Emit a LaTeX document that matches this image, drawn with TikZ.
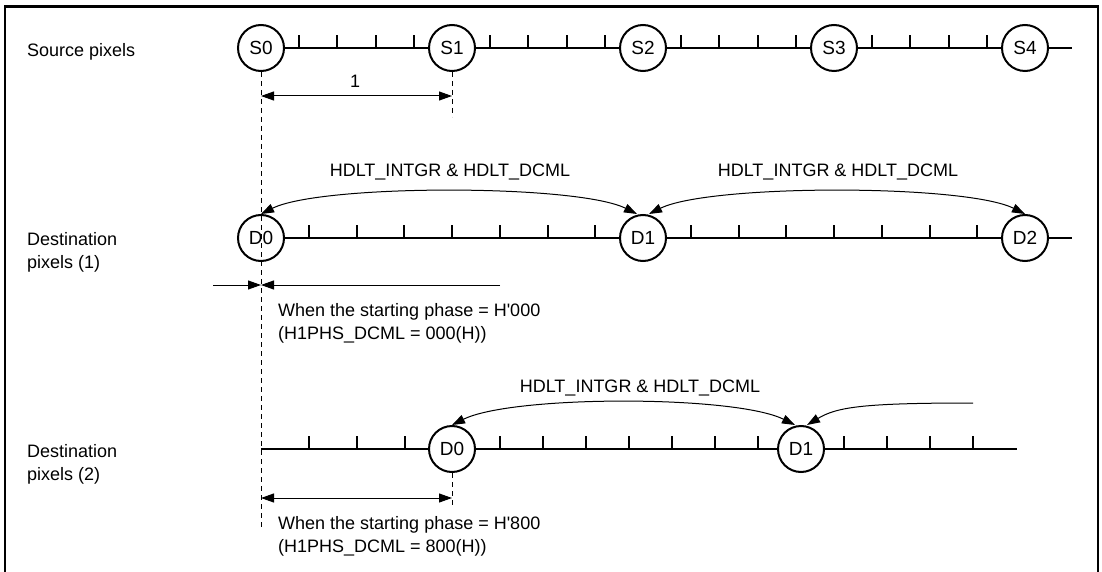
\documentclass[tikz,border=0pt]{standalone}
\usepackage{fontspec}
\setmainfont{Liberation Sans}
\usetikzlibrary{arrows.meta, positioning}

\begin{document}
\begin{tikzpicture}[x=1pt, y=-1pt,
    >={Triangle[length=13pt, width=9pt]},
    pixel/.style={circle, draw, line width=2pt, fill=white, minimum size=46pt, inner sep=0pt, font=\fontsize{19}{20}\selectfont},
    pixline/.style={line width=2.2pt},
    tickmark/.style={line width=2pt},
    guide/.style={line width=1pt, dash pattern=on 5pt off 4pt},
    arrow/.style={<->, line width=1pt},
    txt/.style={inner sep=0pt, align=left, font=\fontsize{18}{23}\selectfont}
]

\useasboundingbox (0,0) rectangle (1102,572);
\draw[line width=2.5pt] (5,575) -- (5,6.5) -- (1098,6.5) -- (1098,575);


\coordinate (src) at (261,48);
\coordinate (dstA) at (261,238);
\coordinate (dstB) at (261,449);


\foreach \s in {0,...,3}
  \foreach \k in {1,...,4}
    \draw[tickmark] ({261+191*\s+38.2*\k},48) -- ++(0,-13);
\foreach \s in {0,1}
  \foreach \k in {1,...,7}
    \draw[tickmark] ({261+382*\s+47.75*\k},238) -- ++(0,-13);
\foreach \x in {309,357,405,500,543,586,629,672,715,758,844,887,930,973}
  \draw[tickmark] (\x,449) -- ++(0,-13);


\node[pixel] (s0) at (src) {S0};
\node[pixel] (s1) at (452,48) {S1};
\node[pixel] (s2) at (643,48) {S2};
\node[pixel] (s3) at (834,48) {S3};
\node[pixel] (s4) at (1025,48) {S4};
\coordinate (srcEnd) at (1072,48);

\node[pixel] (da0) at (dstA) {D0};
\node[pixel] (da1) at (643,238) {D1};
\node[pixel] (da2) at (1025,238) {D2};
\coordinate (dstAEnd) at (1072,238);

\node[pixel] (db0) at (452,449) {D0};
\node[pixel] (db1) at (801,449) {D1};
\coordinate (dstBEnd) at (1017,449);


\draw[pixline] (s0) -- (s1);
\draw[pixline] (s1) -- (s2);
\draw[pixline] (s2) -- (s3);
\draw[pixline] (s3) -- (s4);
\draw[pixline] (s4) -- (srcEnd);

\draw[pixline] (da0) -- (da1);
\draw[pixline] (da1) -- (da2);
\draw[pixline] (da2) -- (dstAEnd);

\draw[pixline] (dstB) -- (db0);
\draw[pixline] (db0) -- (db1);
\draw[pixline] (db1) -- (dstBEnd);


\node[txt, anchor=west] (srcLabel) at (27,52) {Source pixels};
\node[txt, anchor=north west] (dstALabel) at (27,232) {Destination\\pixels (1)};
\node[txt, anchor=north west] (dstBLabel) at (27,444) {Destination\\pixels (2)};


\coordinate (guideA) at (261,530);
\coordinate (guideB) at (452,117);
\coordinate (guideC) at (452,505);
\draw[guide] (s0.south) -- (guideA);
\draw[guide] (s1.south) -- (guideB);
\draw[guide] (db0.south) -- (guideC);


\coordinate (unitL) at (261,96);
\coordinate (unitR) at (452,96);
\draw[arrow] (unitL) -- (unitR);
\node[txt, anchor=base] (unitLabel) at (355,88) {1};


\draw[arrow] ([xshift=-6pt]da1.north) .. controls +(-60,-30) and +(60,-30) .. (da0.north);
\draw[arrow] ([xshift=6pt]da1.north) .. controls +(60,-30) and +(-60,-30) .. (da2.north);
\node[txt, anchor=base] (stepA) at (450,177) {HDLT\_INTGR \& HDLT\_DCML};
\node[txt, anchor=base] (stepB) at (838,177) {HDLT\_INTGR \& HDLT\_DCML};


\coordinate (phaseL) at (213,285);
\coordinate (phaseM) at (261,285);
\coordinate (phaseR) at (500,285);
\draw[arrow, ->] (phaseL) -- (phaseM);
\draw[arrow, ->] (phaseR) -- (phaseM);
\node[txt, anchor=north west] (phaseA) at (278,303) {When the starting phase = H\textquotesingle 000\\(H1PHS\_DCML = 000(H))};


\coordinate (tailB) at (973,403);
\draw[arrow] ([xshift=-6pt]db1.north) .. controls +(-60,-30) and +(60,-30) .. (db0.north);
\draw[arrow, ->] (tailB) .. controls +(-110,0) and +(30,-18) .. ([xshift=6pt]db1.north);
\node[txt, anchor=base] (stepC) at (640,392) {HDLT\_INTGR \& HDLT\_DCML};


\coordinate (offsetL) at (261,498);
\coordinate (offsetR) at (452,498);
\draw[arrow] (offsetL) -- (offsetR);
\node[txt, anchor=north west] (phaseB) at (278,516) {When the starting phase = H\textquotesingle 800\\(H1PHS\_DCML = 800(H))};

\end{tikzpicture}
\end{document}
